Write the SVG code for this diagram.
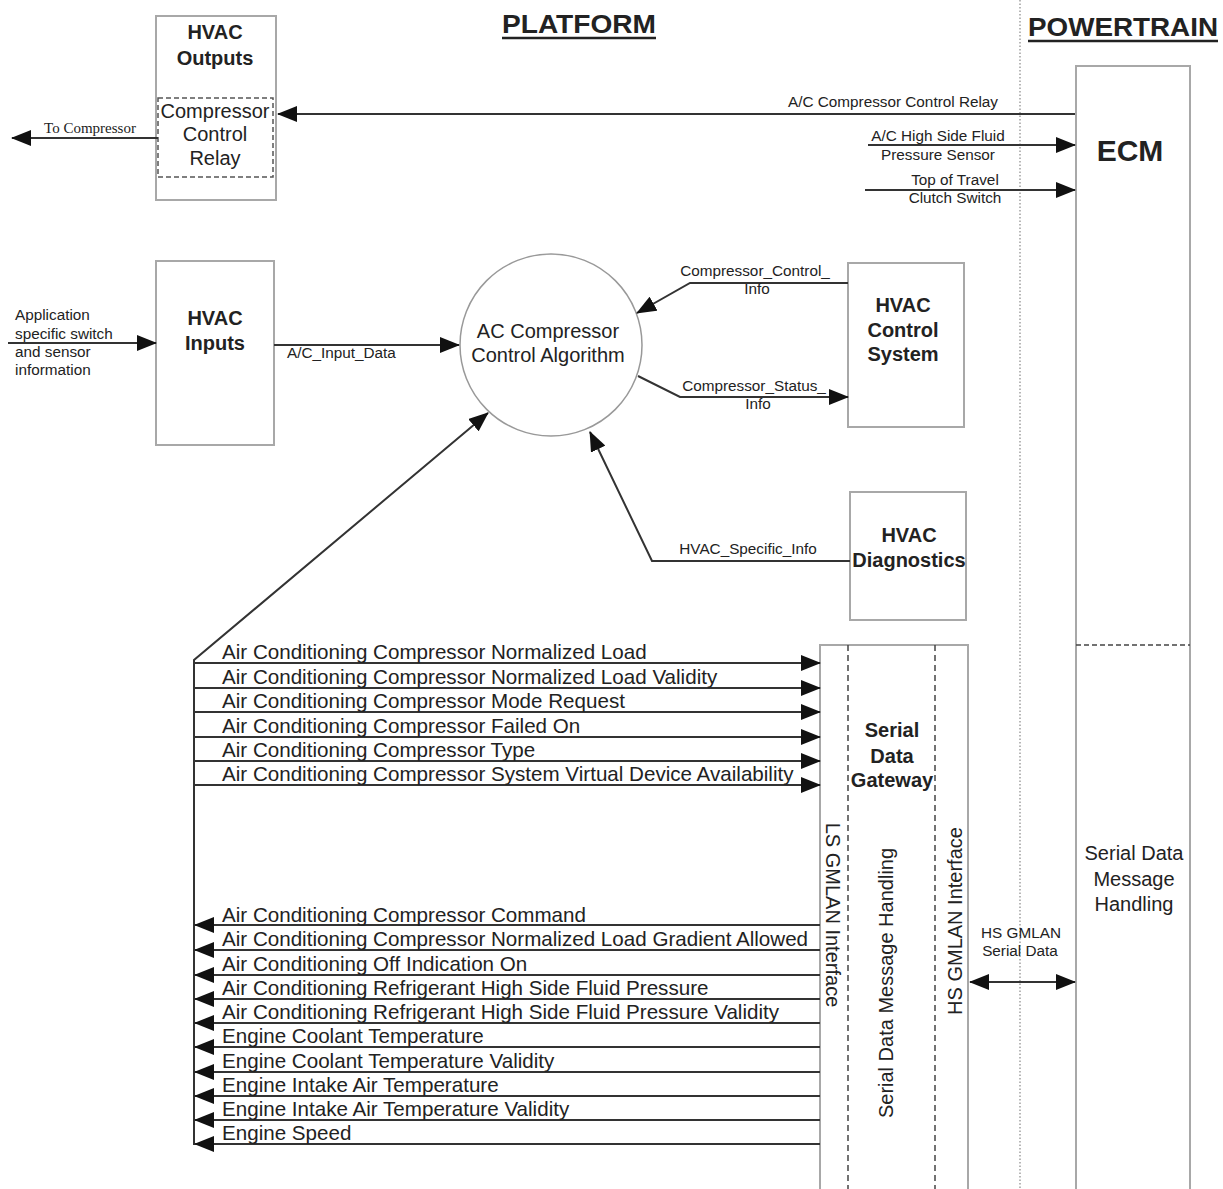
<svg xmlns="http://www.w3.org/2000/svg" width="1223" height="1189" viewBox="0 0 1223 1189">
<style>
.box{fill:#fff;stroke:#a8a8a8;stroke-width:2}
.dash{fill:none;stroke:#555;stroke-width:1.5;stroke-dasharray:5,3}
.ln{fill:none;stroke:#333;stroke-width:2}
.t{font-family:"Liberation Sans",Arial,sans-serif;fill:#222}
.b{font-weight:bold;font-size:20px;text-anchor:middle}
.m{font-size:20px;text-anchor:middle}
.s{font-size:15.3px}
.r{font-size:20.6px}
.c{text-anchor:middle}
.h{font-weight:bold;font-size:26px;text-anchor:middle}
</style>
<defs>
<marker id="arr" markerUnits="userSpaceOnUse" markerWidth="20" markerHeight="16" refX="19" refY="8" orient="auto-start-reverse">
<path d="M0,0 L20,8 L0,16 Z" fill="#111"/>
</marker>
</defs>
<rect width="1223" height="1189" fill="#fff"/>

<g id="headers">
<text class="t h" x="579" y="33" textLength="154" lengthAdjust="spacingAndGlyphs">PLATFORM</text>
<line x1="502" y1="38" x2="656" y2="38" stroke="#222" stroke-width="2.5"/>
<text class="t h" x="1123" y="36" textLength="190" lengthAdjust="spacingAndGlyphs">POWERTRAIN</text>
<line x1="1028" y1="41" x2="1218" y2="41" stroke="#222" stroke-width="2.5"/>
<line x1="1020" y1="0" x2="1020" y2="1189" stroke="#888" stroke-width="1.2" stroke-dasharray="1.5,2"/>
</g>

<g id="hvac-outputs">
<rect class="box" x="156" y="16" width="120" height="184"/>
<text class="t b" x="215" y="39">HVAC</text>
<text class="t b" x="215" y="65">Outputs</text>
<rect class="dash" x="158" y="98" width="115" height="79"/>
<text class="t m" x="215" y="118">Compressor</text>
<text class="t m" x="215" y="141">Control</text>
<text class="t m" x="215" y="165">Relay</text>
</g>

<g id="ecm">
<rect class="box" x="1076" y="66" width="114" height="1130"/>
<text class="t" x="1130" y="161" font-size="30" font-weight="bold" text-anchor="middle">ECM</text>
<line x1="1076" y1="645" x2="1190" y2="645" stroke="#444" stroke-width="1.5" stroke-dasharray="5,3"/>
<text class="t m" x="1134" y="860">Serial Data</text>
<text class="t m" x="1134" y="886">Message</text>
<text class="t m" x="1134" y="911">Handling</text>
</g>

<g id="hvac-inputs">
<rect class="box" x="156" y="261" width="118" height="184"/>
<text class="t b" x="215" y="325">HVAC</text>
<text class="t b" x="215" y="350">Inputs</text>
</g>

<g id="ac-algorithm">
<circle cx="551" cy="345" r="91" fill="#fff" stroke="#999" stroke-width="1.5"/>
<text class="t m" x="548" y="338">AC Compressor</text>
<text class="t m" x="548" y="362">Control Algorithm</text>
</g>

<g id="hvac-control">
<rect class="box" x="848" y="263" width="116" height="164"/>
<text class="t b" x="903" y="312">HVAC</text>
<text class="t b" x="903" y="337">Control</text>
<text class="t b" x="903" y="361">System</text>
</g>

<g id="hvac-diagnostics">
<rect class="box" x="850" y="492" width="116" height="128"/>
<text class="t b" x="909" y="542">HVAC</text>
<text class="t b" x="909" y="567">Diagnostics</text>
</g>

<g id="gateway">
<rect class="box" x="820" y="645" width="148" height="550"/>
<line x1="848" y1="645" x2="848" y2="1189" stroke="#444" stroke-width="1.5" stroke-dasharray="6,4"/>
<line x1="935" y1="645" x2="935" y2="1189" stroke="#444" stroke-width="1.5" stroke-dasharray="6,4"/>
<text class="t b" x="892" y="737">Serial</text>
<text class="t b" x="892" y="763">Data</text>
<text class="t b" x="892" y="787">Gateway</text>
<text class="t m" transform="translate(833,915) rotate(90)" x="0" y="7">LS GMLAN  Interface</text>
<text class="t m" transform="translate(886,983) rotate(-90)" x="0" y="7">Serial Data Message Handling</text>
<text class="t m" transform="translate(955,921) rotate(-90)" x="0" y="7">HS GMLAN  Interface</text>
</g>

<g id="connectors">
<line class="ln" x1="1075" y1="114" x2="278" y2="114" marker-end="url(#arr)"/>
<text class="t s" x="998" y="107" text-anchor="end">A/C Compressor Control Relay</text>
<line class="ln" x1="158" y1="138" x2="12" y2="138" marker-end="url(#arr)"/>
<text x="90" y="133" font-family="'Liberation Serif',serif" font-size="15" fill="#222" text-anchor="middle">To Compressor</text>
<line class="ln" x1="868" y1="145" x2="1075" y2="145" marker-end="url(#arr)"/>
<text class="t s c" x="938" y="141">A/C High Side Fluid</text>
<text class="t s c" x="938" y="160">Pressure Sensor</text>
<line class="ln" x1="865" y1="190" x2="1075" y2="190" marker-end="url(#arr)"/>
<text class="t s c" x="955" y="185">Top of Travel</text>
<text class="t s c" x="955" y="203">Clutch Switch</text>

<line class="ln" x1="8" y1="343" x2="156" y2="343" marker-end="url(#arr)"/>
<text class="t s" x="15" y="320">Application</text>
<text class="t s" x="15" y="339">specific switch</text>
<text class="t s" x="15" y="357">and sensor</text>
<text class="t s" x="15" y="375">information</text>
<line class="ln" x1="274" y1="345" x2="459" y2="345" marker-end="url(#arr)"/>
<text class="t s" x="287" y="358">A/C_Input_Data</text>

<polyline class="ln" points="848,283 690,283 637,313" marker-end="url(#arr)"/>
<text class="t s c" x="755" y="276">Compressor_Control_</text>
<text class="t s c" x="757" y="294">Info</text>
<polyline class="ln" points="638,376 680,397 848,397" marker-end="url(#arr)"/>
<text class="t s c" x="754" y="391">Compressor_Status_</text>
<text class="t s c" x="758" y="409">Info</text>
<polyline class="ln" points="850,561 652,561 590,432" marker-end="url(#arr)"/>
<text class="t s c" x="748" y="554">HVAC_Specific_Info</text>

<polyline class="ln" points="194,1145 194,660 488,413" marker-end="url(#arr)"/>

<line class="ln" x1="194" y1="663" x2="820" y2="663" marker-end="url(#arr)"/>
<line class="ln" x1="194" y1="688" x2="820" y2="688" marker-end="url(#arr)"/>
<line class="ln" x1="194" y1="712" x2="820" y2="712" marker-end="url(#arr)"/>
<line class="ln" x1="194" y1="737" x2="820" y2="737" marker-end="url(#arr)"/>
<line class="ln" x1="194" y1="761" x2="820" y2="761" marker-end="url(#arr)"/>
<line class="ln" x1="194" y1="785" x2="820" y2="785" marker-end="url(#arr)"/>
<text class="t r" x="222" y="659">Air Conditioning Compressor Normalized Load</text>
<text class="t r" x="222" y="684">Air Conditioning Compressor Normalized Load Validity</text>
<text class="t r" x="222" y="708">Air Conditioning Compressor Mode Request</text>
<text class="t r" x="222" y="733">Air Conditioning Compressor Failed On</text>
<text class="t r" x="222" y="757">Air Conditioning Compressor Type</text>
<text class="t r" x="222" y="781">Air Conditioning Compressor System Virtual Device Availability</text>

<line class="ln" x1="820" y1="925" x2="195" y2="925" marker-end="url(#arr)"/>
<line class="ln" x1="820" y1="950" x2="195" y2="950" marker-end="url(#arr)"/>
<line class="ln" x1="820" y1="975" x2="195" y2="975" marker-end="url(#arr)"/>
<line class="ln" x1="820" y1="999" x2="195" y2="999" marker-end="url(#arr)"/>
<line class="ln" x1="820" y1="1023" x2="195" y2="1023" marker-end="url(#arr)"/>
<line class="ln" x1="820" y1="1047" x2="195" y2="1047" marker-end="url(#arr)"/>
<line class="ln" x1="820" y1="1072" x2="195" y2="1072" marker-end="url(#arr)"/>
<line class="ln" x1="820" y1="1096" x2="195" y2="1096" marker-end="url(#arr)"/>
<line class="ln" x1="820" y1="1120" x2="195" y2="1120" marker-end="url(#arr)"/>
<line class="ln" x1="820" y1="1144" x2="195" y2="1144" marker-end="url(#arr)"/>
<text class="t r" x="222" y="922">Air Conditioning Compressor Command</text>
<text class="t r" x="222" y="946">Air Conditioning Compressor Normalized Load Gradient Allowed</text>
<text class="t r" x="222" y="971">Air Conditioning Off Indication On</text>
<text class="t r" x="222" y="995">Air Conditioning Refrigerant High Side Fluid Pressure</text>
<text class="t r" x="222" y="1019">Air Conditioning Refrigerant High Side Fluid Pressure Validity</text>
<text class="t r" x="222" y="1043">Engine Coolant Temperature</text>
<text class="t r" x="222" y="1068">Engine Coolant Temperature Validity</text>
<text class="t r" x="222" y="1092">Engine Intake Air Temperature</text>
<text class="t r" x="222" y="1116">Engine Intake Air Temperature Validity</text>
<text class="t r" x="222" y="1140">Engine Speed</text>

<line class="ln" x1="970" y1="982" x2="1075" y2="982" marker-start="url(#arr)" marker-end="url(#arr)"/>
<text class="t s c" x="1021" y="938">HS GMLAN</text>
<text class="t s c" x="1020" y="956">Serial Data</text>
</g>
</svg>
